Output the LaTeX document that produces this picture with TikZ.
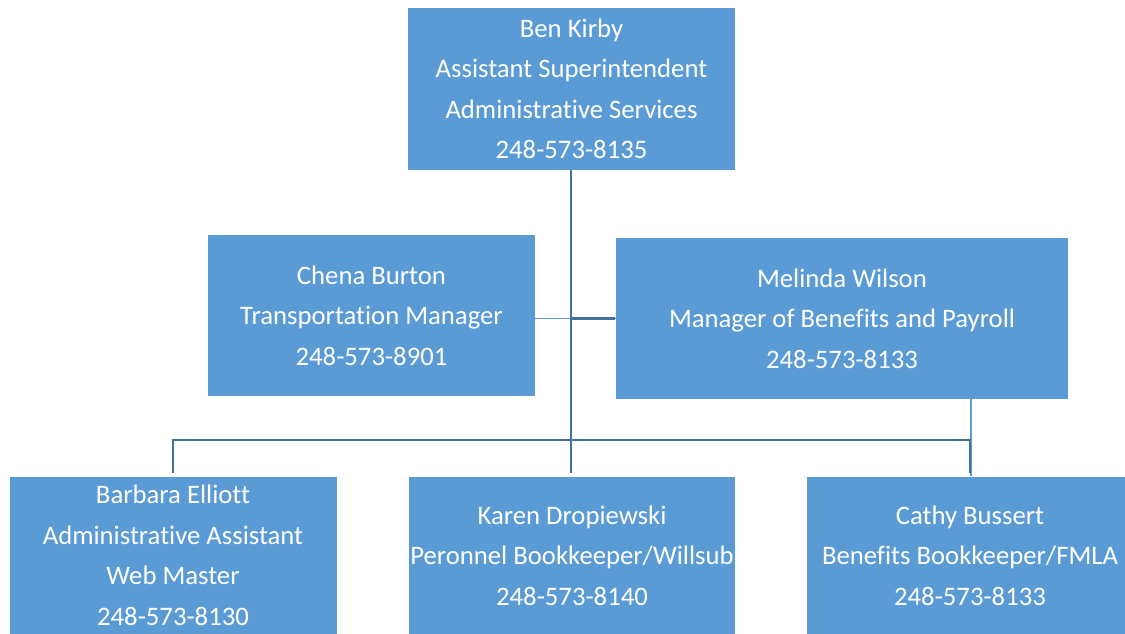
\documentclass[tikz,border=0pt]{standalone}
\usepackage{fontspec}
\setmainfont{Carlito}[Ligatures=NoCommon]
\definecolor{boxblue}{HTML}{5B9BD5}
\definecolor{lineblue}{HTML}{41719C}

\begin{document}
\begin{tikzpicture}[x=1pt, y=-1pt,
  every node/.style = {shape=rectangle, fill=boxblue, text=white,
    align=center, inner sep=0pt,
    font=\fontsize{26.7}{40.5}\selectfont},
  person/.style = {minimum width=327pt, minimum height=161pt},
  trunk/.style = {draw=lineblue, line width=2.8pt},
  link/.style = {draw=boxblue, line width=1.5pt}]
  \useasboundingbox (0,0) rectangle (1125,634);
  \node[person, minimum height=162pt] (boss) at (571.5,89)
    {Ben Kirby\\Assistant Superintendent\\Administrative Services\\248-573-8135};
  \node[person] (chena) at (371.5,315.5)
    {Chena Burton\\Transportation Manager\\248-573-8901};
  \node[person, minimum width=452pt] (melinda) at (842,318.5)
    {Melinda Wilson\\Manager of Benefits and Payroll\\248-573-8133};
  \node[person, minimum height=158pt] (barbara) at (173,555.5)
    {Barbara Elliott\\Administrative Assistant\\Web Master\\248-573-8130};
  \node[person, minimum width=326pt, minimum height=158pt] (karen) at (572,555.5)
    {Karen Dropiewski\\Peronnel Bookkeeper/Willsub\\248-573-8140};
  \node[person, minimum width=326pt, minimum height=158pt] (cathy) at (970,555.5)
    {Cathy Bussert\\Benefits Bookkeeper/FMLA\\248-573-8133};
  % bus and right drop
  \coordinate (bus) at (571,440);
  \coordinate (rdrop) at (971,440);
  % thin links
  \draw[link] (chena.east |- melinda.west) -- (melinda.west);
  \draw[link] (melinda.south -| rdrop) -- (cathy.north -| rdrop);
  % main lines
  \draw[trunk] (boss.south -| bus) -- ([yshift=3.5pt]karen.north -| bus);
  \draw[trunk] (melinda.west -| bus) -- ([xshift=-1pt]melinda.west);
  \draw[trunk] ([yshift=3.5pt]barbara.north) |- (bus) -| ([xshift=-1pt,yshift=3.5pt]cathy.north -| rdrop);
\end{tikzpicture}
\end{document}
